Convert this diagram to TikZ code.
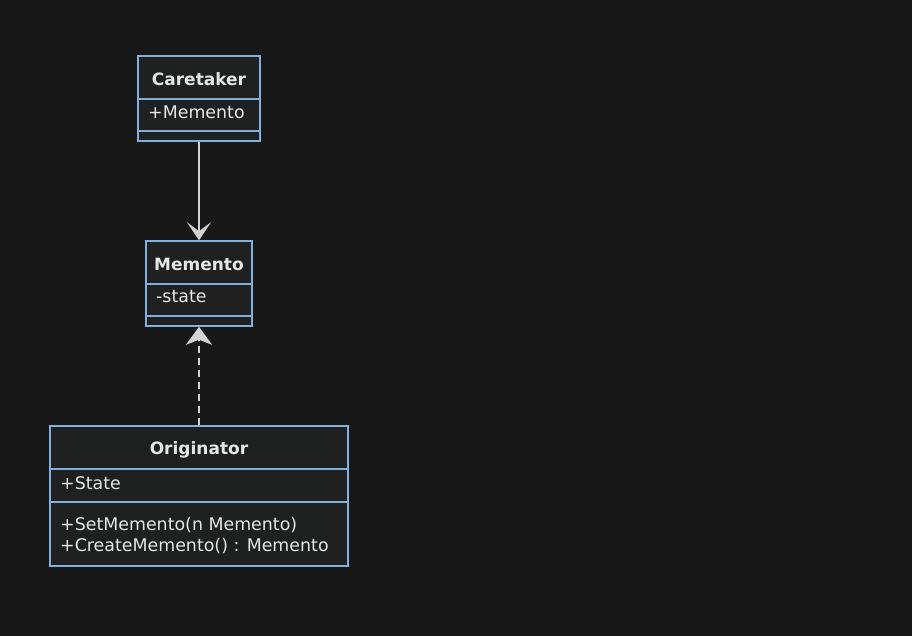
\documentclass[tikz,border=0pt]{standalone}
\usepackage{fontspec}
\setmainfont{DejaVu Sans}
\usetikzlibrary{arrows.meta}
\definecolor{bg}{HTML}{181818}
\definecolor{boxfill}{HTML}{1F2020}
\definecolor{boxline}{HTML}{81B1DB}
\definecolor{txt}{HTML}{E6E6E6}
\definecolor{lnk}{HTML}{D3D3D3}
\begin{document}
\begin{tikzpicture}[x=1pt,y=-1pt,
  classbox/.style={draw=boxline,fill=boxfill,line width=1.5pt},
  divline/.style={draw=boxline,line width=1.5pt},
  title/.style={text=txt,font=\fontsize{17}{20}\selectfont\bfseries,inner sep=0pt},
  member/.style={text=txt,font=\fontsize{17.4}{20}\selectfont,inner sep=0pt,anchor=west},
  link/.style={draw=lnk,line width=1.5pt}]
\fill[bg] (0,0) rectangle (912,636);
\useasboundingbox (0,0) rectangle (912,636);
% Caretaker
\node[classbox,minimum width=122pt,minimum height=85pt,inner sep=0pt] (care) at (199,98.5) {};
\draw[divline] (138,99) -- (260,99);
\draw[divline] (138,131) -- (260,131);
\node[title] (careT) at (199,79) {Caretaker};
\node[member] (careA) at (148,112) {+Memento};
% Memento
\node[classbox,minimum width=106pt,minimum height=85pt,inner sep=0pt] (mem) at (199,283.5) {};
\draw[divline] (146,284) -- (252,284);
\draw[divline] (146,316) -- (252,316);
\node[title] (memT) at (199,264) {Memento};
\node[member] (memA) at (156,297) {-state};
% Originator
\node[classbox,minimum width=298pt,minimum height=140pt,inner sep=0pt] (orig) at (199,496) {};
\draw[divline] (50,469) -- (348,469);
\draw[divline] (50,502) -- (348,502);
\node[title] (origT) at (199,450) {Originator};
\node[member] (origA) at (60,483) {+State};
\node[member] (origM1) at (60,525) {+SetMemento(n Memento)};
\node[member] (origM2) at (60,546) {+CreateMemento() : Memento};
% connectors
\draw[link,-{Stealth[length=18pt,width=24pt,inset=9pt,fill=lnk]}] (care.south) -- (mem.north);
\draw[link,dash pattern=on 7pt off 5pt,-{Stealth[length=18pt,width=26pt,inset=5pt,fill=lnk]}] (orig.north) -- (mem.south);
\end{tikzpicture}
\end{document}
